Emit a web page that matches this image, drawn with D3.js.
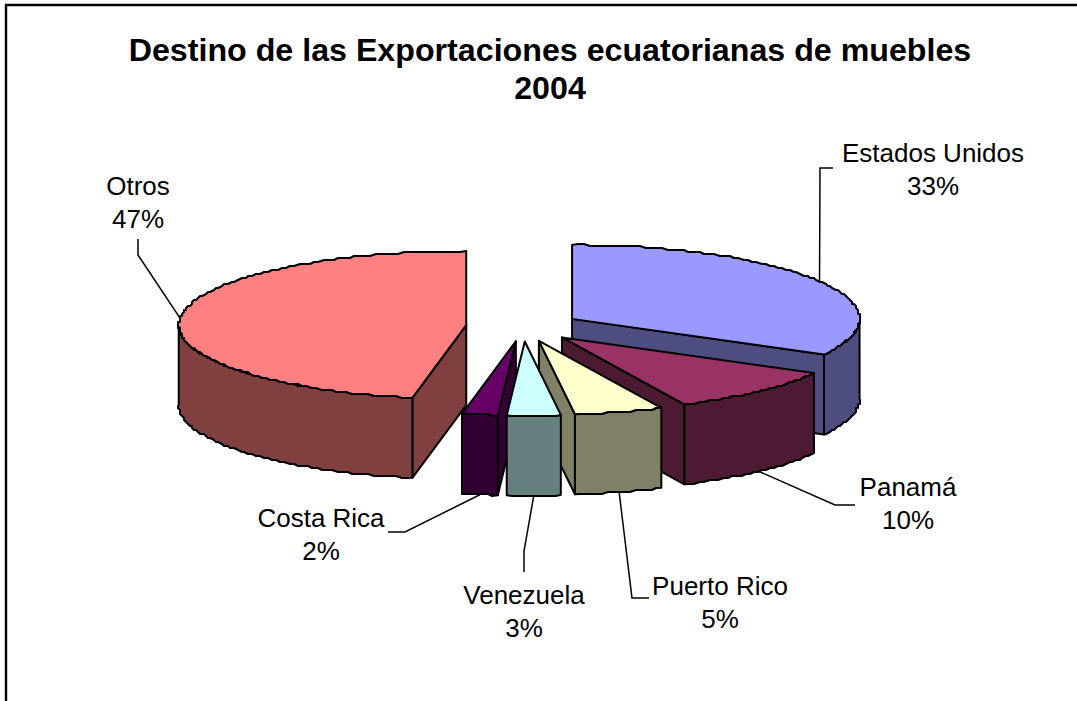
<!DOCTYPE html>
<html>
<head>
<meta charset="utf-8">
<script src="https://cdn.jsdelivr.net/npm/d3@7"></script>
<style>
  html, body { margin: 0; padding: 0; background: white; }
  svg { display: block; font-family: "Liberation Sans", Arial, sans-serif; }
</style>
</head>
<body>
<div id="chart"></div>
<script>
var categories = ['Estados Unidos', 'Panamá', 'Puerto Rico', 'Venezuela', 'Costa Rica', 'Otros']
var values = [33, 10, 5, 3, 2, 47]
var top_colors = ['#9999ff', '#993366', '#ffffcc', '#ccffff', '#660066', '#ff8080']
var side_colors = ['#4d4d80', '#4d1a33', '#808066', '#668080', '#330033', '#804040']
var title_lines = ['Destino de las Exportaciones ecuatorianas de muebles', '2004']

// label centre + the elbow of each leader line, same order as categories
var label_x = [933, 908, 720, 524, 321, 138]
var label_y = [162, 496, 595, 604, 527, 195]
var elbows = [
  [[820, 168], [833, 168]],
  [[835, 505], [855, 505]],
  [[632, 598], [649, 598]],
  [[524, 551], [524, 572]],
  [[405, 532], [388, 532]],
  [[138, 255], [138, 239]]
]

var w = 1077
var h = 701
var rx = 287.5
var ry = 74
var depth = 80
var explode = 57

var svg = d3.select('#chart').append('svg')
  .attr('width', w)
  .attr('height', h)

// only the left and top of the frame are in the picture
svg.append('path')
  .attr('d', 'M6,' + h + 'V5H' + w)
  .attr('fill', 'none')
  .attr('stroke', 'black')
  .attr('stroke-width', 2.4)

title_lines.forEach(function (t, idx) {
  svg.append('text').text(t)
    .attr('x', 550)
    .attr('y', 61 + idx * 38)
    .attr('text-anchor', 'middle')
    .style('font-size', '32.2px')
    .style('font-weight', 'bold')
})

var pie = d3.pie().sort(null).value(function (d) { return d })
var arcs = pie(values)

// flattened pie: unit circle -> ellipse
var scale_x = d3.scaleLinear().domain([-1, 1]).range([-rx, rx])
var scale_y = d3.scaleLinear().domain([-1, 1]).range([-ry, ry])
var line = d3.line()

var cx0 = 523
var cy0 = 326.5

var slices = arcs.map(function (a, idx) {
  var mid = (a.startAngle + a.endAngle) / 2
  return {
    idx: idx,
    a0: a.startAngle,
    a1: a.endAngle,
    mid: mid,
    cx: cx0 + explode * Math.sin(mid),
    cy: cy0 - explode * (ry / rx) * Math.cos(mid) * 1.02
  }
})

function rim (s, angle, dy) {
  return [s.cx + scale_x(Math.sin(angle)), s.cy - scale_y(Math.cos(angle)) + (dy || 0)]
}

// the source was a small bitmap blown up, so the curves are a bit stepped
function snap (p) {
  return [Math.round(p[0] / 2) * 2, Math.round(p[1] / 2) * 2]
}

function rim_points (s, a0, a1, dy) {
  var n = Math.max(2, Math.ceil((a1 - a0) * 50))
  return d3.range(n + 1).map(function (i) {
    var p = rim(s, a0 + (a1 - a0) * i / n, dy)
    return (i === 0 || i === n) ? p : snap(p)
  })
}

function add_poly (pts, fill) {
  svg.append('path')
    .attr('d', line(pts) + 'Z')
    .attr('fill', fill)
    .attr('stroke', 'black')
    .attr('stroke-width', 2)
    .attr('stroke-linejoin', 'round')
}

// back slices first, the ones closest to the bottom of the pie last
slices.slice().sort(function (a, b) {
  return Math.abs(b.mid - Math.PI) - Math.abs(a.mid - Math.PI)
}).forEach(function (s) {
  var side = side_colors[s.idx]
  var apex = [s.cx, s.cy]
  var apex_low = [s.cx, s.cy + depth]

  // cut faces, only the ones turned towards us
  if (Math.sin(s.a1) > 0) {
    add_poly([apex, rim(s, s.a1), rim(s, s.a1, depth), apex_low], side)
  }
  if (Math.sin(s.a0) < 0) {
    add_poly([apex, rim(s, s.a0), rim(s, s.a0, depth), apex_low], side)
  }

  // outer wall, front half of the ellipse only
  var from = Math.max(s.a0, Math.PI / 2)
  var to = Math.min(s.a1, Math.PI * 1.5)
  if (to > from) {
    add_poly(rim_points(s, from, to).concat(rim_points(s, from, to, depth).reverse()), side)
  }

  add_poly([apex].concat(rim_points(s, s.a0, s.a1)), top_colors[s.idx])
})

// labels and leaders
slices.forEach(function (s) {
  var i = s.idx
  var front = Math.cos(s.mid) < 0
  var start = rim(s, s.mid, front ? depth : 0)
  svg.append('path')
    .attr('d', line([start].concat(elbows[i])))
    .attr('fill', 'none')
    .attr('stroke', 'black')
    .attr('stroke-width', 1.5)

  var t = svg.append('text')
    .attr('text-anchor', 'middle')
    .style('font-size', '26px')
    .attr('fill', 'black')
  t.append('tspan').attr('x', label_x[i]).attr('y', label_y[i]).text(categories[i])
  t.append('tspan').attr('x', label_x[i]).attr('y', label_y[i] + 33).text(values[i] + '%')
})
</script>
</body>
</html>
